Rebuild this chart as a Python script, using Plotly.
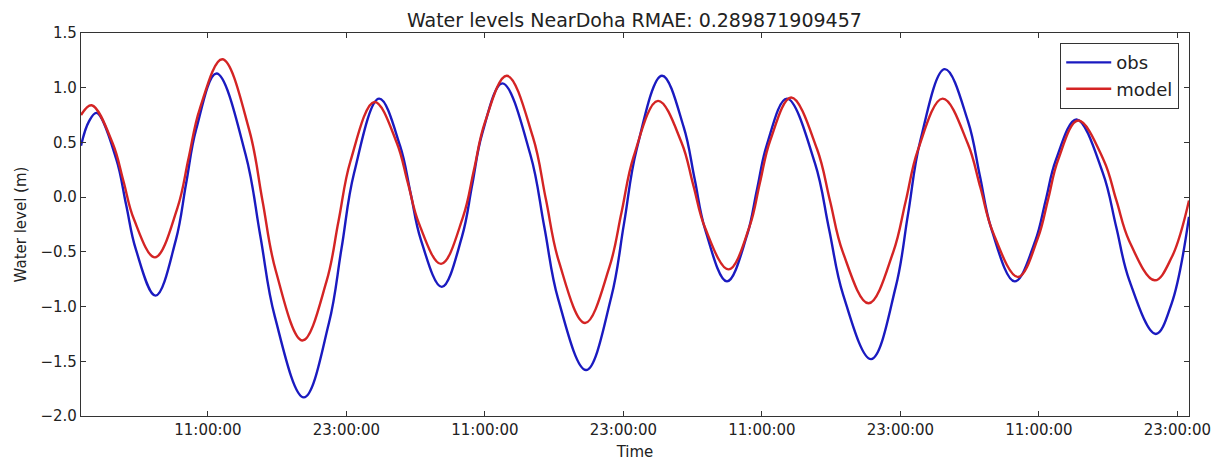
import plotly.graph_objects as go

# Hours since start (day 1, 00:00) and water levels (m)
obs_hours = [0.0, 0.68, 1.35, 3.05, 3.91, 4.76, 6.46, 8.22, 9.10, 9.98, 11.74,
             14.26, 15.53, 16.79, 19.31, 21.48, 22.57, 23.66, 25.83,
             27.64, 28.55, 29.45, 31.26, 33.01, 33.89, 34.76, 36.51,
             38.93, 40.14, 41.34, 43.76, 45.95, 47.05, 48.15, 50.34,
             52.22, 53.16, 54.09, 55.97, 57.70, 58.57, 59.43, 61.16,
             63.59, 64.81, 66.03, 68.46, 70.59, 71.65, 72.71, 74.84,
             76.86, 77.87, 78.88, 80.90, 82.68, 83.58, 84.47, 86.25,
             88.54, 89.69, 90.83, 93.12, 94.50, 96.0]
obs_level = [0.47, 0.69, 0.77, 0.35, -0.07, -0.48, -0.90, -0.39, 0.12, 0.62, 1.13,
             0.39, -0.35, -1.09, -1.83, -1.15, -0.47, 0.22, 0.90,
             0.47, 0.04, -0.39, -0.82, -0.36, 0.11, 0.58, 1.04,
             0.39, -0.27, -0.93, -1.58, -0.91, -0.24, 0.44, 1.11,
             0.64, 0.17, -0.30, -0.77, -0.35, 0.07, 0.48, 0.90,
             0.31, -0.29, -0.89, -1.48, -0.82, -0.16, 0.51, 1.17,
             0.69, 0.20, -0.29, -0.77, -0.40, -0.03, 0.34, 0.71,
             0.22, -0.27, -0.76, -1.25, -0.97, -0.18]

model_hours = [0.0, 0.92, 2.75, 3.67, 4.58, 6.41, 8.35, 9.33, 10.30, 12.24,
               14.56, 15.72, 16.87, 19.19, 21.27, 22.31, 23.35, 25.43,
               27.35, 28.32, 29.28, 31.20, 33.10, 34.05, 34.99, 36.89,
               39.15, 40.28, 41.41, 43.67, 45.78, 46.83, 47.88, 49.99,
               52.03, 53.05, 54.07, 56.11, 57.92, 58.82, 59.72, 61.53,
               63.77, 64.89, 66.00, 68.24, 70.38, 71.45, 72.51, 74.65,
               76.83, 77.92, 79.01, 81.19, 82.92, 83.79, 84.66, 86.39,
               88.60, 89.71, 90.82, 93.03, 94.50, 96.0]
model_level = [0.75, 0.84, 0.49, 0.15, -0.20, -0.55, -0.10, 0.36, 0.81, 1.26,
               0.62, -0.03, -0.67, -1.31, -0.77, -0.22, 0.33, 0.87,
               0.50, 0.13, -0.24, -0.61, -0.18, 0.25, 0.68, 1.11,
               0.55, -0.02, -0.59, -1.15, -0.64, -0.14, 0.37, 0.88,
               0.50, 0.11, -0.28, -0.66, -0.27, 0.13, 0.52, 0.91,
               0.44, -0.03, -0.50, -0.97, -0.50, -0.04, 0.43, 0.90,
               0.49, 0.09, -0.32, -0.73, -0.37, -0.02, 0.34, 0.70,
               0.34, -0.03, -0.40, -0.76, -0.55, -0.03]

tick_hours = [11, 23, 35, 47, 59, 71, 83, 95]
tick_labels = ["11:00:00", "23:00:00", "11:00:00", "23:00:00",
               "11:00:00", "23:00:00", "11:00:00", "23:00:00"]
y_ticks = [-2.0, -1.5, -1.0, -0.5, 0.0, 0.5, 1.0, 1.5]
y_tick_labels = ["\u22122.0", "\u22121.5", "\u22121.0", "\u22120.5", "0.0", "0.5", "1.0", "1.5"]

FONT = "DejaVu Sans"
AX = "#333333"
TXT = "#222222"

fig = go.Figure()
fig.add_trace(go.Scatter(x=obs_hours, y=obs_level, mode="lines", name="obs",
                         legendgroup="a",
                         line=dict(color="#1a1ac0", width=2.4, shape="spline", smoothing=1.1)))
fig.add_trace(go.Scatter(x=model_hours, y=model_level, mode="lines", name="model",
                         legendgroup="b",
                         line=dict(color="#d42424", width=2.4, shape="spline", smoothing=1.1)))

axis_common = dict(showgrid=False, zeroline=False, showline=True, linecolor=AX,
                   linewidth=1.2, mirror="allticks", ticks="inside", ticklen=5,
                   tickcolor=AX, tickwidth=1, automargin=False,
                   tickfont=dict(family=FONT, size=15, color=TXT))

fig.update_layout(
    width=1220, height=462,
    margin=dict(l=81, r=31, t=33, b=46),
    paper_bgcolor="white", plot_bgcolor="white",
    title=dict(text="Water levels NearDoha RMAE: 0.289871909457",
               x=0.52, xanchor="center", y=0.957, yanchor="middle",
               font=dict(family=FONT, size=19, color=TXT)),
    xaxis=dict(range=[0, 96], tickvals=tick_hours, ticktext=tick_labels,
               title=dict(text="Time", font=dict(family=FONT, size=15, color=TXT),
                          standoff=8),
               **axis_common),
    yaxis=dict(range=[-2.0, 1.5], tickvals=y_ticks, ticktext=y_tick_labels,
               title=dict(text="Water level (m)", font=dict(family=FONT, size=15, color=TXT),
                          standoff=10),
               **axis_common),
    legend=dict(x=0.991, y=0.974, xanchor="right", yanchor="top",
                bgcolor="white", bordercolor=AX, borderwidth=1.2,
                font=dict(family=FONT, size=18, color=TXT),
                tracegroupgap=0, itemwidth=45),
    showlegend=True,
)

fig.write_html("out.html")
